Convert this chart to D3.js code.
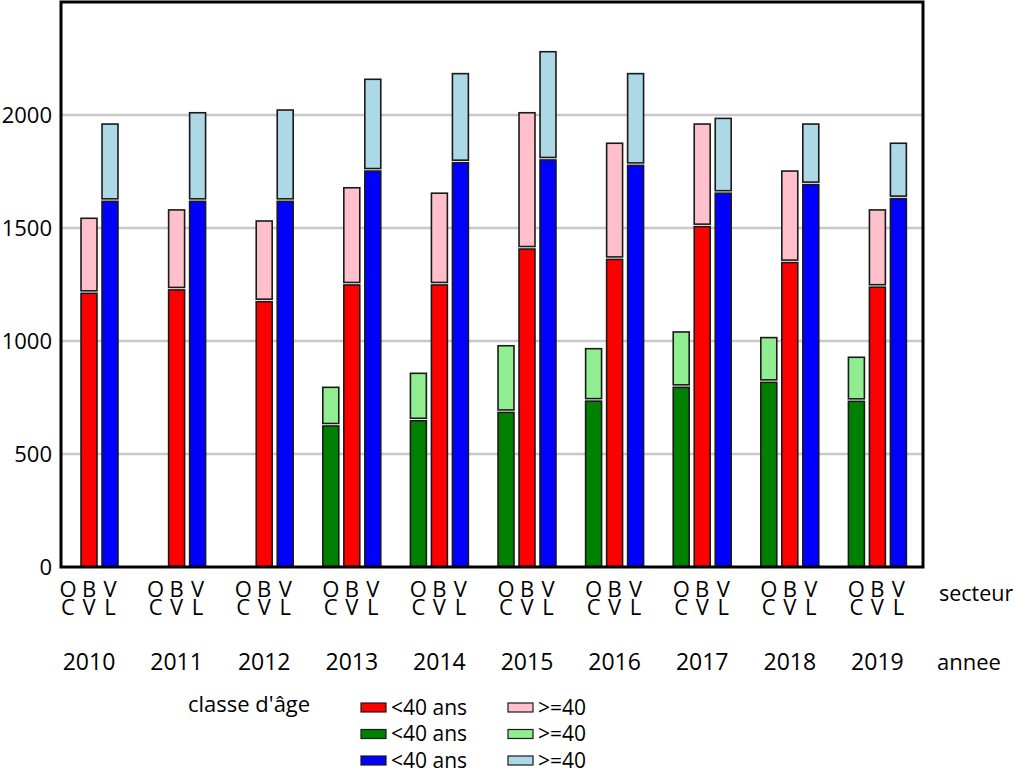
<!DOCTYPE html>
<html><head><meta charset="utf-8">
<script src="https://cdn.jsdelivr.net/npm/d3@7"></script>
<style>
body{margin:0;background:#fff;}
svg text{font-family:"Open Sans","Noto Sans",sans-serif;fill:#000;}
</style></head>
<body><svg id="c" width="1013" height="774"></svg>
<script>
const years = ["2010","2011","2012","2013","2014","2015","2016","2017","2018","2019"];
const sectors = ["OC","BV","VL"];
const sectorLine1 = ["O","B","V"];
const sectorLine2 = ["C","V","L"];
// <40 ans and >=40 (>=40 given as cumulative top of the stacked bar)
const ocYoung = [null,null,null,624,647,684,734,795,817,733];
const ocTotal = [null,null,null,795,857,979,966,1040,1015,928];
const bvYoung = [1211,1226,1174,1248,1248,1407,1361,1506,1347,1238];
const bvTotal = [1543,1580,1531,1678,1654,2010,1875,1960,1752,1580];
const vlYoung = [1618,1618,1618,1752,1789,1801,1777,1654,1692,1630];
const vlTotal = [1960,2010,2022,2158,2183,2280,2183,1985,1960,1875];
const yTicks = [0,500,1000,1500,2000];
const youngColors = {OC:"#008000", BV:"#ff0000", VL:"#0000ff"};
const oldColors = {OC:"#90ee90", BV:"#ffc0cb", VL:"#add8e6"};
const legendYoung = ["<40 ans","<40 ans","<40 ans"];
const legendOld = [">=40",">=40",">=40"];
const legendOrder = ["BV","OC","VL"];

const svg = d3.select("#c");
const L=61, R=923, T=2, B=567;
const y = d3.scaleLinear().domain([0,2500]).range([B,T]);
const x = d3.scaleBand().domain(years).range([45.2,921.2]).padding(0);
const xs = d3.scaleBand().domain(sectors).range([12.3,75.3]).paddingInner(0.24).paddingOuter(0.12);

// grid
svg.append("g").selectAll("line").data(yTicks.filter(d=>d>0)).join("line")
  .attr("x1",L).attr("x2",R).attr("y1",d=>y(d)).attr("y2",d=>y(d))
  .attr("stroke","#c8c8c8").attr("stroke-width",2.5);

// y axis labels
const yAxis = d3.axisLeft(y).tickValues(yTicks).tickFormat(d3.format("d")).tickSize(0).tickPadding(9);
const ga = svg.append("g").attr("transform",`translate(${L},0)`).call(yAxis);
ga.select(".domain").remove();
ga.selectAll("text").style("font-size","22px").style("font-family",'"Open Sans",sans-serif').attr("dy","0.35em");

// bars
const rows = [];
years.forEach((yr,i)=>{
  [["OC",ocYoung,ocTotal],["BV",bvYoung,bvTotal],["VL",vlYoung,vlTotal]].forEach(([s,yo,to])=>{
    if(yo[i]==null) return;
    rows.push({yr,s,lo:0,hi:yo[i],fill:youngColors[s],up:false});
    rows.push({yr,s,lo:yo[i],hi:to[i],fill:oldColors[s],up:true});
  });
});
const gap=2.5;
svg.append("g").selectAll("rect").data(rows).join("rect")
  .attr("x",d=>x(d.yr)+xs(d.s))
  .attr("width",xs.bandwidth())
  .attr("y",d=>y(d.hi))
  .attr("height",d=>y(d.lo)-y(d.hi)-(d.up?gap:0))
  .attr("fill",d=>d.fill).attr("stroke","#1a1a1a").attr("stroke-width",1.6);

// frame
svg.append("rect").attr("x",L).attr("y",T).attr("width",R-L).attr("height",B-T)
  .attr("fill","none").attr("stroke","#000").attr("stroke-width",3);

// sector labels (two stacked letters per sector, one text element each)
const gl = svg.append("g");
years.forEach(yr=>{
  sectors.forEach((s,j)=>{
    const cx = x(yr)+xs(s)+xs.bandwidth()/2;
    const t = gl.append("text").attr("x",cx).attr("y",597).attr("text-anchor","middle").style("font-size","22px");
    t.append("tspan").attr("x",cx).attr("y",597).text(sectorLine1[j]);
    t.append("tspan").attr("x",cx).attr("y",615).text(sectorLine2[j]);
  });
  gl.append("text").attr("x",x(yr)+x.bandwidth()/2).attr("y",670).attr("text-anchor","middle").style("font-size","23px").text(yr);
});
gl.append("text").attr("x",939).attr("y",601).style("font-size","21.5px").text("secteur");
gl.append("text").attr("x",937).attr("y",670).style("font-size","22px").text("annee");

// legend
const lg = svg.append("g");
lg.append("text").attr("x",188).attr("y",712).style("font-size","22px").text("classe d'âge");
legendOrder.forEach((s,i)=>{
  const cy = 707.5 + i*26.5;
  lg.append("rect").attr("x",361).attr("y",cy-4.5).attr("width",25).attr("height",9)
    .attr("fill",youngColors[s]).attr("stroke","#1a1a1a").attr("stroke-width",1.2);
  lg.append("text").attr("x",391).attr("y",cy+7).style("font-size","21px").text(legendYoung[i]);
  lg.append("rect").attr("x",508).attr("y",cy-4.5).attr("width",25).attr("height",9)
    .attr("fill",oldColors[s]).attr("stroke","#1a1a1a").attr("stroke-width",1.2);
  lg.append("text").attr("x",538).attr("y",cy+7).style("font-size","21px").text(legendOld[i]);
});
</script></body></html>
